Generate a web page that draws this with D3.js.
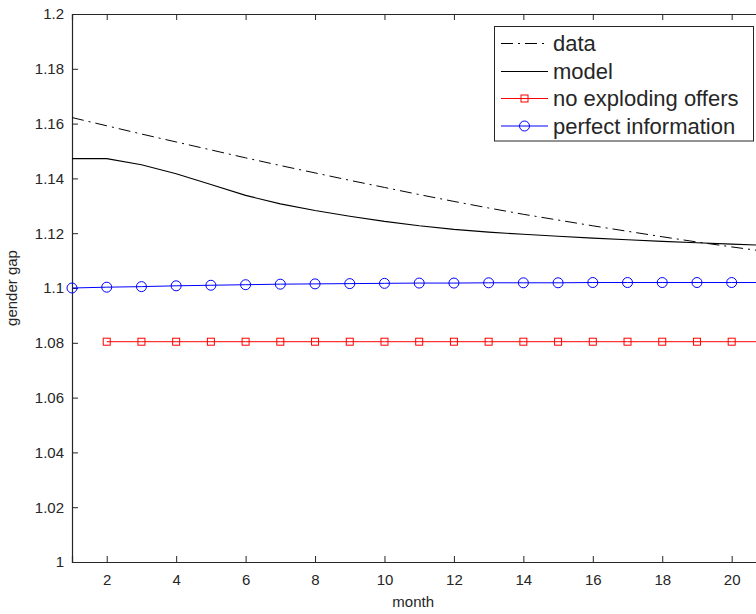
<!DOCTYPE html>
<html>
<head>
<meta charset="utf-8">
<script src="https://cdn.jsdelivr.net/npm/d3@7"></script>
<style>
  body { margin: 0; background: #fff; }
  text { font-family: "Liberation Sans", Arial, sans-serif; fill: #262626; }
</style>
</head>
<body>
<svg id="chart" width="756" height="614"></svg>
<script>
// Months
var months = [1,2,3,4,5,6,7,8,9,10,11,12,13,14,15,16,17,18,19,20,21];

// Data (dash-dot)
var dataGap = [1.1622,1.1592,1.1562,1.1533,1.1504,1.1475,1.1447,1.1420,1.1393,1.1367,1.1341,
               1.1316,1.1292,1.1269,1.1248,1.1227,1.1207,1.1187,1.1168,1.1150,1.1133];

// Model (solid)
var modelGap = [1.1472,1.1472,1.1450,1.1417,1.1378,1.1338,1.1307,1.1283,1.1262,1.1243,1.1227,
                1.1214,1.1204,1.1196,1.1189,1.1182,1.1176,1.1170,1.1165,1.1160,1.1156];

// No exploding offers (starts at month 2)
var noExplodingMonths = [2,3,4,5,6,7,8,9,10,11,12,13,14,15,16,17,18,19,20,21];
var noExplodingGap = [1.0804,1.0804,1.0804,1.0804,1.0804,1.0804,1.0804,1.0804,1.0804,1.0804,
                      1.0804,1.0804,1.0804,1.0804,1.0804,1.0804,1.0804,1.0804,1.0804,1.0804];

// Perfect information
var perfectGap = [1.1000,1.1003,1.1005,1.1008,1.1010,1.1012,1.1014,1.1015,1.1016,1.1017,1.1018,
                  1.1018,1.1019,1.1019,1.1019,1.1020,1.1020,1.1020,1.1020,1.1020,1.1020];

// Tick labels
var xTicks = [2,4,6,8,10,12,14,16,18,20];
var yTicks = [1,1.02,1.04,1.06,1.08,1.1,1.12,1.14,1.16,1.18,1.2];
var legendLabels = ['data','model','no exploding offers','perfect information'];

var svg = d3.select('#chart');
var mLeft = 72, mTop = 14, mRight = 766.4, mBottom = 562;

var x = d3.scaleLinear().domain([1, 21]).range([mLeft, mRight]);
var y = d3.scaleLinear().domain([1, 1.2]).range([mBottom, mTop]);

var axisColor = '#262626';

// Axes with inward ticks
var xAxis = svg.append('g').attr('transform', 'translate(0,' + mBottom + ')')
  .call(d3.axisBottom(x).tickValues(xTicks).tickSize(-6).tickPadding(12)
        .tickFormat(d3.format('d')));
var xAxisTop = svg.append('g').attr('transform', 'translate(0,' + mTop + ')')
  .call(d3.axisTop(x).tickValues(xTicks).tickSize(-6).tickFormat(''));
var yAxis = svg.append('g').attr('transform', 'translate(' + mLeft + ',0)')
  .call(d3.axisLeft(y).tickValues(yTicks).tickSize(-6).tickPadding(8)
        .tickFormat(function(d) { return String(+d.toFixed(2)); }));

[xAxis, xAxisTop, yAxis].forEach(function(g) {
  g.select('.domain').attr('stroke', axisColor).attr('stroke-width', 1.2);
  g.selectAll('.tick line').attr('stroke', axisColor);
  g.selectAll('.tick text').style('font-size', '15px').attr('fill', axisColor)
   .style('font-family', '"Liberation Sans", Arial, sans-serif');
});

// Axis titles
svg.append('text').attr('x', (mLeft + mRight) / 2 - 6).attr('y', 607)
  .attr('text-anchor', 'middle').style('font-size', '15px').text('month');
svg.append('text').attr('transform', 'translate(17,' + ((mTop + mBottom) / 2) + ') rotate(-90)')
  .attr('text-anchor', 'middle').style('font-size', '15px').text('gender gap');

var line = d3.line().x(function(d) { return x(d[0]); }).y(function(d) { return y(d[1]); });

var plot = svg.append('g');

// Series lines
plot.append('path').datum(d3.zip(months, dataGap)).attr('d', line)
  .attr('fill', 'none').attr('stroke', '#000').attr('stroke-width', 1)
  .attr('stroke-dasharray', '12,5,2,5');
plot.append('path').datum(d3.zip(months, modelGap)).attr('d', line)
  .attr('fill', 'none').attr('stroke', '#000').attr('stroke-width', 1.1);
plot.append('path').datum(d3.zip(noExplodingMonths, noExplodingGap)).attr('d', line)
  .attr('fill', 'none').attr('stroke', '#ff0000').attr('stroke-width', 1);
plot.append('path').datum(d3.zip(months, perfectGap)).attr('d', line)
  .attr('fill', 'none').attr('stroke', '#0000ff').attr('stroke-width', 1);

// Markers
plot.selectAll('rect.sq').data(d3.zip(noExplodingMonths, noExplodingGap)).enter()
  .append('rect').attr('class', 'sq')
  .attr('x', function(d) { return x(d[0]) - 3.5; })
  .attr('y', function(d) { return y(d[1]) - 3.5; })
  .attr('width', 7).attr('height', 7)
  .attr('fill', 'none').attr('stroke', '#ff0000').attr('stroke-width', 1);
plot.selectAll('circle.ci').data(d3.zip(months, perfectGap)).enter()
  .append('circle').attr('class', 'ci')
  .attr('cx', function(d) { return x(d[0]); })
  .attr('cy', function(d) { return y(d[1]); })
  .attr('r', 5)
  .attr('fill', 'none').attr('stroke', '#0000ff').attr('stroke-width', 1);

// Legend
var legend = svg.append('g');
legend.append('rect').attr('x', 494.5).attr('y', 26.5).attr('width', 259).attr('height', 114.5)
  .attr('fill', '#fff').attr('stroke', axisColor).attr('stroke-width', 1);
var rowY = [43.5, 71.5, 98.5, 126];
var legStyles = [
  {color: '#000', dash: '12,5,2,5', marker: null},
  {color: '#000', dash: null, marker: null},
  {color: '#ff0000', dash: null, marker: 'square'},
  {color: '#0000ff', dash: null, marker: 'circle'}
];
legendLabels.forEach(function(lab, i) {
  var s = legStyles[i];
  legend.append('line').attr('x1', 501).attr('x2', 548).attr('y1', rowY[i]).attr('y2', rowY[i])
    .attr('stroke', s.color).attr('stroke-width', 1)
    .attr('stroke-dasharray', s.dash);
  if (s.marker === 'square') {
    legend.append('rect').attr('x', 521).attr('y', rowY[i] - 3.5).attr('width', 7).attr('height', 7)
      .attr('fill', 'none').attr('stroke', s.color);
  } else if (s.marker === 'circle') {
    legend.append('circle').attr('cx', 524.5).attr('cy', rowY[i]).attr('r', 5)
      .attr('fill', 'none').attr('stroke', s.color);
  }
  legend.append('text').attr('x', 553).attr('y', rowY[i] + 7.5)
    .style('font-size', '22px').text(lab);
});
</script>
</body>
</html>
